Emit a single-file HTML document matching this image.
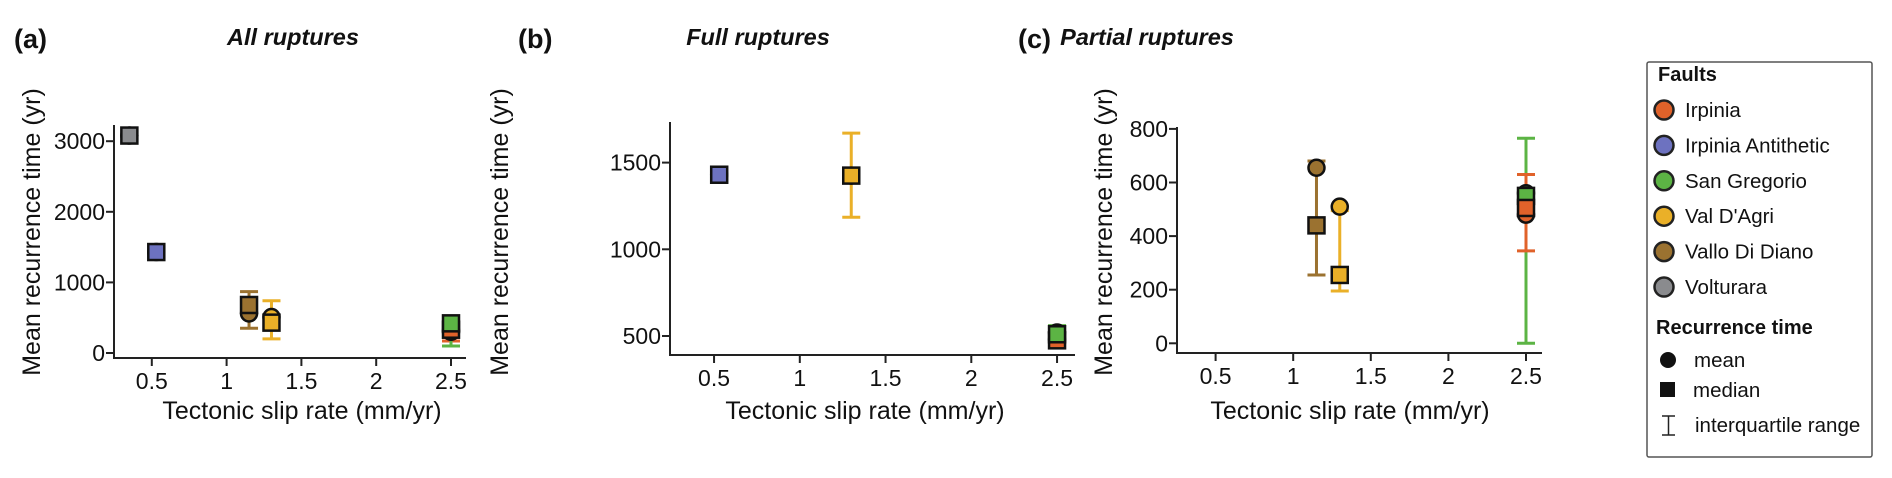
<!DOCTYPE html>
<html><head><meta charset="utf-8"><style>
html,body{margin:0;padding:0;background:#fff;width:1892px;height:478px;overflow:hidden}
svg{display:block;font-family:"Liberation Sans",Arial,sans-serif}
</style></head><body>
<svg id="fig" width="1892" height="478" viewBox="0 0 1892 478"></svg>
<script>
const colors = {"Irpinia":"#e0622a","Irpinia Antithetic":"#6d72c0","San Gregorio":"#5cb444","Val D'Agri":"#eab028","Vallo Di Diano":"#9b7230","Volturara":"#8a8b8e"};
const xTicks = [0.5,1,1.5,2,2.5];
const xTickLabels = ["0.5","1","1.5","2","2.5"];
// Panel a
const aFaults = ["Irpinia","Irpinia Antithetic","Vallo Di Diano","Val D'Agri","Volturara","San Gregorio"];
const aSlip = [2.5,0.53,1.15,1.3,0.35,2.5];
const aMean = [320,1430,560,510,3080,300];
const aMedian = [330,1430,680,430,3080,420];
const aQ1 = [170,1410,350,200,3060,100];
const aQ3 = [440,1450,870,740,3110,470];
const aYTicks = [0,1000,2000,3000];
// Panel b
const bFaults = ["Irpinia Antithetic","Val D'Agri","Irpinia","San Gregorio"];
const bSlip = [0.53,1.3,2.5,2.5];
const bMean = [1430,1425,480,520];
const bMedian = [1430,1425,475,510];
const bQ1 = [1420,1185,460,470];
const bQ3 = [1440,1670,500,560];
const bYTicks = [500,1000,1500];
// Panel c
const cFaults = ["San Gregorio","Irpinia","Vallo Di Diano","Val D'Agri"];
const cSlip = [2.5,2.5,1.15,1.3];
const cMean = [560,480,655,510];
const cMedian = [550,505,440,255];
const cQ1 = [0,345,255,195];
const cQ3 = [765,630,680,495];
const cYTicks = [0,200,400,600,800];

const NS="http://www.w3.org/2000/svg";
const svg=document.getElementById('fig');
function mk(tag,attrs,parent,text){const e=document.createElementNS(NS,tag);for(const k in attrs)e.setAttribute(k,attrs[k]);if(text!==undefined)e.textContent=text;(parent||svg).appendChild(e);return e;}

function panel(cfg){
  const g=mk('g',{});
  
  
  const sx=v=>cfg.x0px+v*cfg.xu;
  const sy=v=>cfg.y0px-(v-cfg.y0v)*cfg.yu;
  const L=cfg.axL, R=cfg.axR, B=cfg.axB, T=cfg.axT;
  const ax=mk('path',{d:`M${L},${T} L${L},${B} L${R},${B}`,fill:'none',stroke:'#222','stroke-width':2},g);
  
  
  xTicks.forEach((t,i)=>{
    const x=sx(t);
    mk('line',{x1:x,y1:B,x2:x,y2:B+8,stroke:'#222','stroke-width':2},g);
    const tx=mk('text',{x:x,y:B+31,'font-size':23,'text-anchor':'middle',fill:'#111'},g,xTickLabels[i]);
    
    
  });
  cfg.yTicks.forEach(t=>{
    const y=sy(t);
    mk('line',{x1:L-8,y1:y,x2:L,y2:y,stroke:'#222','stroke-width':2},g);
    const tx=mk('text',{x:L-9,y:y+8,'font-size':23,'text-anchor':'end',fill:'#111'},g,String(t));
    
    
  });
  const xl=mk('text',{x:cfg.xlabX,y:419,'font-size':25,'text-anchor':'middle',fill:'#111'},g,'Tectonic slip rate (mm/yr)');
  
  
  const yl=mk('text',{x:0,y:0,'font-size':25,'text-anchor':'middle',fill:'#111',transform:`translate(${cfg.ylabX},${cfg.ylabY}) rotate(-90)`},g,'Mean recurrence time (yr)');
  
  
  const pl=mk('text',{x:cfg.tagX,y:48,'font-size':27,'font-weight':'bold',fill:'#111'},g,'('+cfg.id+')');
  
  
  const tt=mk('text',{x:cfg.titleX,y:45,'font-size':23.5,'font-weight':'bold','font-style':'italic','text-anchor':'middle',fill:'#111'},g,cfg.title);
  
  
  const d=cfg.data;
  d.f.forEach((f,i)=>{
    const x=sx(d.s[i]),y1=sy(d.q1[i]),y2=sy(d.q3[i]);
    const eb=mk('path',{d:`M${x},${y1} L${x},${y2} M${x-9},${y1} L${x+9},${y1} M${x-9},${y2} L${x+9},${y2}`,stroke:colors[f],'stroke-width':3,fill:'none'},g);
    
    
  });
  d.f.forEach((f,i)=>{
    const c=mk('circle',{cx:sx(d.s[i]),cy:sy(d.mean[i]),r:8,fill:colors[f],stroke:'#111','stroke-width':2.5},g);
    
    
  });
  d.f.forEach((f,i)=>{
    const r=mk('rect',{x:sx(d.s[i])-8,y:sy(d.med[i])-8,width:16,height:16,fill:colors[f],stroke:'#111','stroke-width':2.5},g);
    
    
  });
}
panel({id:'a',title:'All ruptures',tagX:14,titleX:293,x0px:77,xu:149.6,y0px:353,y0v:0,yu:0.0706,axL:114,axR:466,axB:358,axT:125,yTicks:aYTicks,xlabX:302,ylabX:40,ylabY:232,
  data:{f:aFaults,s:aSlip,mean:aMean,med:aMedian,q1:aQ1,q3:aQ3}});
panel({id:'b',title:'Full ruptures',tagX:518,titleX:758,x0px:628.3,xu:171.5,y0px:336,y0v:500,yu:0.1734,axL:670,axR:1075,axB:355,axT:122,yTicks:bYTicks,xlabX:865,ylabX:508,ylabY:232,
  data:{f:bFaults,s:bSlip,mean:bMean,med:bMedian,q1:bQ1,q3:bQ3}});
panel({id:'c',title:'Partial ruptures',tagX:1018,titleX:1147,x0px:1138,xu:155.2,y0px:343.3,y0v:0,yu:0.268,axL:1177,axR:1542,axB:353,axT:127,yTicks:cYTicks,xlabX:1350,ylabX:1112,ylabY:232,
  data:{f:cFaults,s:cSlip,mean:cMean,med:cMedian,q1:cQ1,q3:cQ3}});

// Legend
const lg=mk('g',{});


mk('rect',{x:1647,y:62,width:225,height:395,fill:'#fff',stroke:'#555','stroke-width':1.5,rx:2},lg);
mk('text',{x:1658,y:81,'font-size':20,'font-weight':'bold',fill:'#111'},lg,'Faults');
const legendFaults=["Irpinia","Irpinia Antithetic","San Gregorio","Val D'Agri","Vallo Di Diano","Volturara"];
legendFaults.forEach((f,i)=>{
  const y=110+i*35.4;
  const e=mk('g',{},lg);
  
  
  mk('circle',{cx:1664,cy:y,r:9.5,fill:colors[f],stroke:'#222','stroke-width':2.5},e);
  mk('text',{x:1685,y:y+7,'font-size':20.5,fill:'#111'},e,f);
});
mk('text',{x:1656,y:334,'font-size':20,'font-weight':'bold',fill:'#111'},lg,'Recurrence time');
mk('circle',{cx:1668,cy:360,r:8,fill:'#111'},lg);
mk('text',{x:1694,y:367,'font-size':20.5,fill:'#111'},lg,'mean');
mk('rect',{x:1660,y:382,width:15,height:15,fill:'#111'},lg);
mk('text',{x:1693,y:397,'font-size':20.5,fill:'#111'},lg,'median');
mk('path',{d:'M1662,416 L1675,416 M1668.5,416 L1668.5,435 M1662,435 L1675,435',stroke:'#222','stroke-width':1.5,fill:'none'},lg);
mk('text',{x:1695,y:432,'font-size':20.5,fill:'#111'},lg,'interquartile range');
</script>
</body></html>
